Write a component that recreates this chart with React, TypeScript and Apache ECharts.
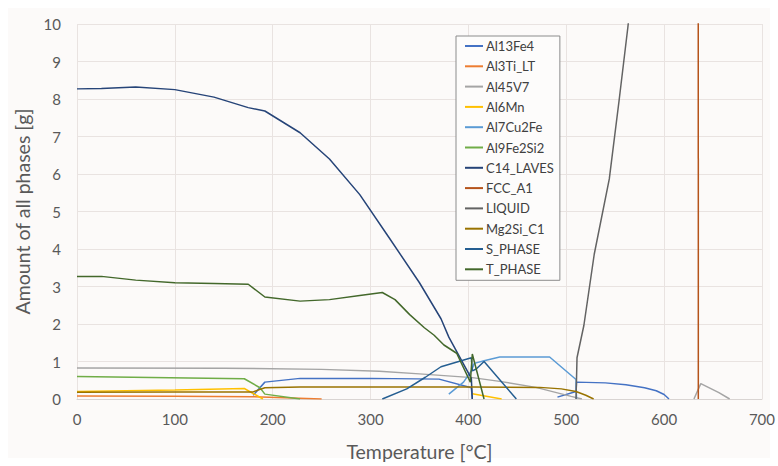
import React, { useEffect, useRef } from "react";
import * as echarts from "echarts";

type Pt = [number, number | null];

const seriesNames = [
  "Al13Fe4", "Al3Ti_LT", "Al45V7", "Al6Mn", "Al7Cu2Fe", "Al9Fe2Si2",
  "C14_LAVES", "FCC_A1", "LIQUID", "Mg2Si_C1", "S_PHASE", "T_PHASE",
];
const seriesColors = [
  "#4472C4", "#ED7D31", "#A5A5A5", "#FFC000", "#5B9BD5", "#70AD47",
  "#264478", "#B5531A", "#636363", "#997300", "#255E91", "#43682B",
];

const al13Fe4: Pt[] = [
  [180, 0.1], [192, 0.45], [228, 0.55], [300, 0.55], [370, 0.53], [403, 0.3], [404, 0],
  [450, null],
  [491, 0.05], [510, 0.2], [510.5, 0.45], [540, 0.43], [561, 0.38], [580, 0.3], [592, 0.22], [600, 0.12], [605, 0],
];
const al3TiLT: Pt[] = [[0, 0.08], [100, 0.075], [180, 0.06], [250, 0]];
const al45V7: Pt[] = [
  [0, 0.83], [150, 0.82], [250, 0.79], [309, 0.74], [350, 0.67], [404, 0.57], [432, 0.47],
  [469, 0.31], [490, 0.17], [505, 0.07], [516, 0],
  [600, null],
  [630.5, 0], [637.5, 0.41], [656, 0.17], [667, 0],
];
const al6Mn: Pt[] = [[0, 0.2], [100, 0.24], [171, 0.28], [190, 0], [300, null], [404, 0.14], [434, 0]];
const al7Cu2Fe: Pt[] = [
  [380, 0.13], [395, 0.45], [403, 0.75], [406, 0.95], [416, 1.02], [432, 1.12], [483, 1.12],
  [510, 0.52], [510.5, 0],
];
const al9Fe2Si2: Pt[] = [[0, 0.6], [171, 0.54], [187, 0.3], [192, 0.13], [228, 0]];
const c14Laves: Pt[] = [
  [0, 8.27], [25, 8.28], [60, 8.32], [100, 8.25], [140, 8.05], [175, 7.77], [192, 7.68],
  [228, 7.1], [258, 6.4], [289, 5.45], [319, 4.3], [350, 3.1], [372, 2.14], [380, 1.65],
  [403, 0.55], [404, 0],
];
const fccA1: Pt[] = [[634, 100], [635, 0]];
const liquid: Pt[] = [
  [510, 0], [511, 1.1], [518, 1.96], [528.6, 3.86], [544, 5.87], [554, 7.96], [563, 9.92], [565, 10.4],
];
const mg2SiC1: Pt[] = [
  [0, 0.18], [100, 0.19], [180, 0.19], [192, 0.3], [228, 0.32], [350, 0.32], [404, 0.32],
  [473, 0.31], [495, 0.27], [510, 0.2], [520, 0.1], [528, 0],
];
const sPhase: Pt[] = [
  [312, 0], [337, 0.27], [356, 0.58], [372, 0.86], [403, 1.1], [404, 0.75], [408, 0.8],
  [416, 1.0], [449, 0],
];
const tPhase: Pt[] = [
  [0, 3.27], [25, 3.27], [60, 3.17], [100, 3.1], [140, 3.08], [175, 3.06], [192, 2.72],
  [228, 2.61], [258, 2.65], [289, 2.76], [312, 2.84], [325, 2.65], [340, 2.25], [355, 1.9],
  [365, 1.7], [375, 1.44], [388, 1.22], [402, 0.45], [404, 1.2], [416, 0],
];

const seriesData: Pt[][] = [
  al13Fe4, al3TiLT, al45V7, al6Mn, al7Cu2Fe, al9Fe2Si2,
  c14Laves, fccA1, liquid, mg2SiC1, sPhase, tPhase,
];

const FONT = "Lato";

export default function App() {
  const ref = useRef<HTMLDivElement>(null);
  useEffect(() => {
    if (!ref.current) return;
    const chart = echarts.init(ref.current, null, { renderer: "svg" });
    chart.setOption({
      animation: false,
      backgroundColor: "#ffffff",
      graphic: [
        {
          type: "rect",
          z: -10,
          silent: true,
          shape: { x: 8, y: 8, width: 762, height: 450 },
          style: { fill: "#fcfaf9" },
        },
      ],
      grid: { left: 77, right: 15, top: 24, bottom: 60, containLabel: false },
      legend: {
        orient: "vertical",
        left: 456,
        top: 36,
        icon: "rect",
        itemWidth: 18,
        itemHeight: 2,
        itemGap: 6.3,
        padding: [3, 6, 4, 9],
        borderColor: "#8c8c8c",
        borderWidth: 1,
        backgroundColor: "#fdfcfb",
        textStyle: { fontFamily: FONT, fontSize: 13, lineHeight: 14, color: "#404040", padding: [0, 0, 0, -2] },
        data: seriesNames,
      },
      xAxis: {
        type: "value",
        min: 0,
        max: 700,
        interval: 100,
        name: "Temperature [°C]",
        nameLocation: "middle",
        nameGap: 42,
        nameTextStyle: { fontFamily: FONT, fontSize: 19.5, color: "#595959" },
        axisLine: { show: true, lineStyle: { color: "#d9d4d2", width: 1 } },
        axisTick: { show: false },
        axisLabel: { fontFamily: FONT, fontSize: 15, color: "#595959", margin: 12 },
        splitLine: { show: true, lineStyle: { color: "#e9e3e1", width: 1 } },
      },
      yAxis: {
        type: "value",
        min: 0,
        max: 10,
        interval: 1,
        name: "Amount of all phases [g]",
        nameLocation: "middle",
        nameGap: 30,
        nameTextStyle: { fontFamily: FONT, fontSize: 19.5, color: "#595959" },
        axisLine: { show: false },
        axisTick: { show: false },
        axisLabel: { fontFamily: FONT, fontSize: 15, color: "#595959", margin: 16 },
        splitLine: { show: true, lineStyle: { color: "#e9e3e1", width: 1 } },
      },
      series: seriesNames.map((name, i) => ({
        name,
        type: "line",
        data: seriesData[i],
        symbol: "none",
        showSymbol: false,
        connectNulls: false,
        clip: true,
        color: seriesColors[i],
        lineStyle: { width: 1.5, color: seriesColors[i] },
      })),
    });
    return () => chart.dispose();
  }, []);
  return (
    <div
      ref={ref}
      style={{ position: "fixed", left: 0, top: 0, width: 778, height: 466 }}
    />
  );
}
